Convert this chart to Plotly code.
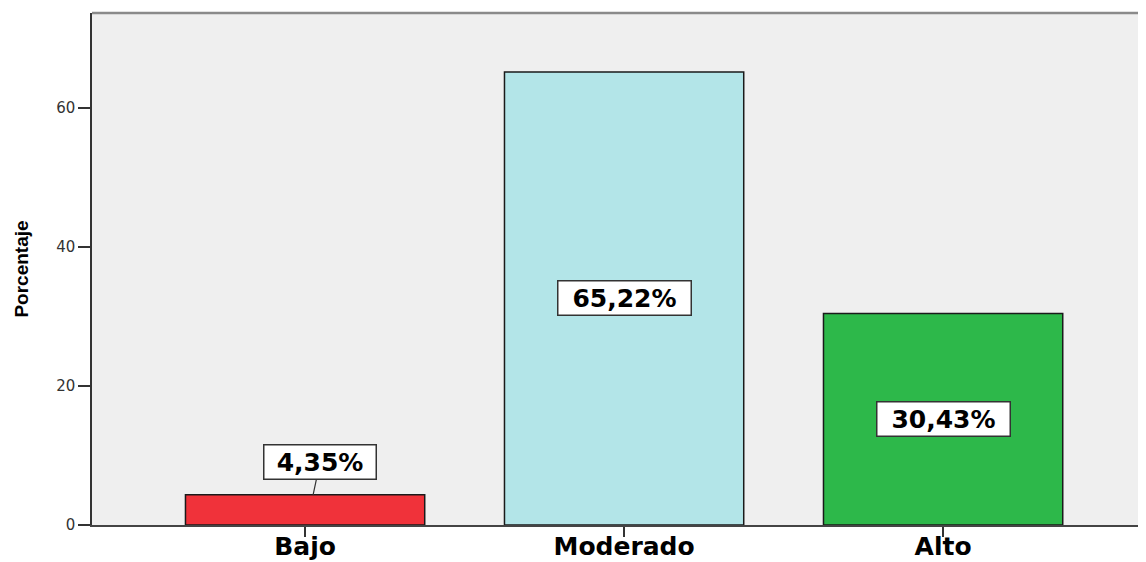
import plotly.graph_objects as go

categories = ["Bajo", "Moderado", "Alto"]
values = [4.35, 65.22, 30.43]
labels = ["4,35%", "65,22%", "30,43%"]
colors = ["#F0323A", "#B3E5E8", "#2DB84A"]
y_ticks = [0, 20, 40, 60]

LABEL_FONT = dict(family="DejaVu Sans, Liberation Sans, Arial", size=25, color="#000", weight="bold")
BOX_FONT = dict(family="DejaVu Sans, Arial", size=25, color="#000", weight="bold")

fig = go.Figure()
fig.add_trace(go.Bar(
    x=list(range(len(categories))), y=values,
    width=0.75,
    marker=dict(color=colors, line=dict(color="#1a1a1a", width=1.5)),
    hoverinfo="skip",
))

for i, (v, t) in enumerate(zip(values, labels)):
    common = dict(text=t, font=BOX_FONT, bgcolor="white", bordercolor="#333",
                  borderwidth=1.5, borderpad=0, height=33, align="center")
    if v < 10:
        fig.add_annotation(x=i, y=v, showarrow=True, arrowhead=0,
                           arrowwidth=1.2, arrowcolor="#333", ax=7, ay=-33, xshift=8,
                           width=111, **common)
    else:
        fig.add_annotation(x=i, y=v / 2, showarrow=False, width=132, **common)

fig.add_shape(type="line", xref="paper", yref="paper", x0=0, x1=1, y0=1, y1=1,
              line=dict(color="#8a8a8a", width=2.5))

fig.update_layout(
    width=1138, height=554,
    margin=dict(l=84, r=0, t=5, b=37),
    paper_bgcolor="white", plot_bgcolor="#EFEFEF",
    showlegend=False,
    xaxis=dict(
        range=[-0.668, 2.636], automargin=False,
        tickmode="array", tickvals=list(range(len(categories))), ticktext=categories,
        ticks="outside", ticklen=10, tickcolor="#333", tickwidth=1.5,
        ticklabelstandoff=-12,
        tickfont=LABEL_FONT,
        showline=True, linecolor="#444", linewidth=1.5,
        showgrid=False, zeroline=False,
    ),
    yaxis=dict(
        range=[0, 73.7], automargin=False,
        tickmode="array", tickvals=y_ticks,
        ticks="outside", ticklen=12, tickcolor="#333", tickwidth=1.5,
        tickfont=dict(family="DejaVu Sans, Arial", size=15, color="#333"),
        showline=True, linecolor="#333", linewidth=1.5,
        showgrid=False, zeroline=False,
        title=dict(text="<b>Porcentaje</b>", standoff=23,
                   font=dict(family="Liberation Sans, Arial", size=19, color="#000")),
    ),
)

fig.write_html("out.html")
